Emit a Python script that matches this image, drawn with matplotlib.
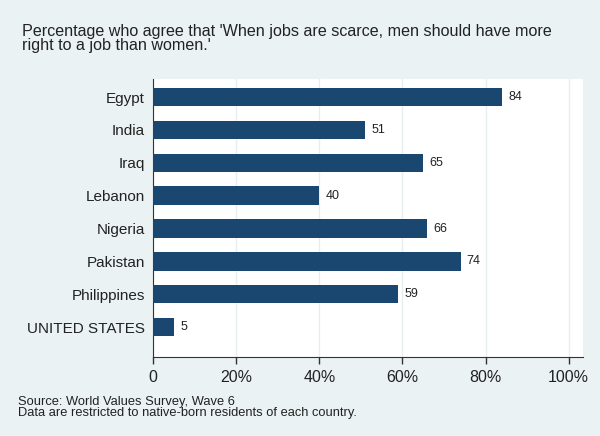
import matplotlib.pyplot as plt
import numpy as np

countries = ["Egypt", "India", "Iraq", "Lebanon", "Nigeria", "Pakistan",
             "Philippines", "UNITED STATES"]
values = [84, 51, 65, 40, 66, 74, 59, 5]
xticks = [0, 20, 40, 60, 80, 100]
xtick_labels = ["0", "20%", "40%", "60%", "80%", "100%"]

plt.rcParams["font.family"] = ["Liberation Sans", "DejaVu Sans"]

bg = "#eaf2f3"
bar_color = "#1a476f"
text_color = "#222222"

fig = plt.figure(figsize=(6, 4.36), dpi=100, facecolor=bg)
ax = fig.add_axes([0.255, 0.181, 0.717, 0.638])
ax.set_facecolor("white")

y = np.arange(len(countries))
ax.barh(y, values, height=0.56, color=bar_color, zorder=3)
for yi, v in zip(y, values):
    ax.text(v + 1.5, yi, f"{v}", va="center", ha="left", fontsize=9,
            color=text_color, zorder=4)

ax.set_ylim(7.91, -0.55)
ax.set_xlim(0, 103.5)
ax.set_yticks(y)
ax.set_yticklabels(countries, fontsize=11, color=text_color)
ax.tick_params(axis="y", length=0, pad=6)
ax.set_xticks(xticks)
ax.set_xticklabels(xtick_labels, fontsize=11.5, color=text_color)
ax.tick_params(axis="x", length=5, width=1, color="#333333", pad=4)

ax.grid(axis="x", color="#e6eef0", linewidth=1, zorder=0)
for side in ["top", "right"]:
    ax.spines[side].set_visible(False)
ax.spines["left"].set_color("#333333")
ax.spines["bottom"].set_color("#333333")

fig.text(0.037, 0.945, "Percentage who agree that 'When jobs are scarce, men should have more\n"
         "right to a job than women.'", fontsize=11.6, color=text_color,
         va="top", ha="left", linespacing=0.95)
fig.text(0.03, 0.092, "Source: World Values Survey, Wave 6\n"
         "Data are restricted to native-born residents of each country.",
         fontsize=9.3, color=text_color, va="top", ha="left", linespacing=0.95)

fig.savefig("out.png", dpi=100, facecolor=bg)
